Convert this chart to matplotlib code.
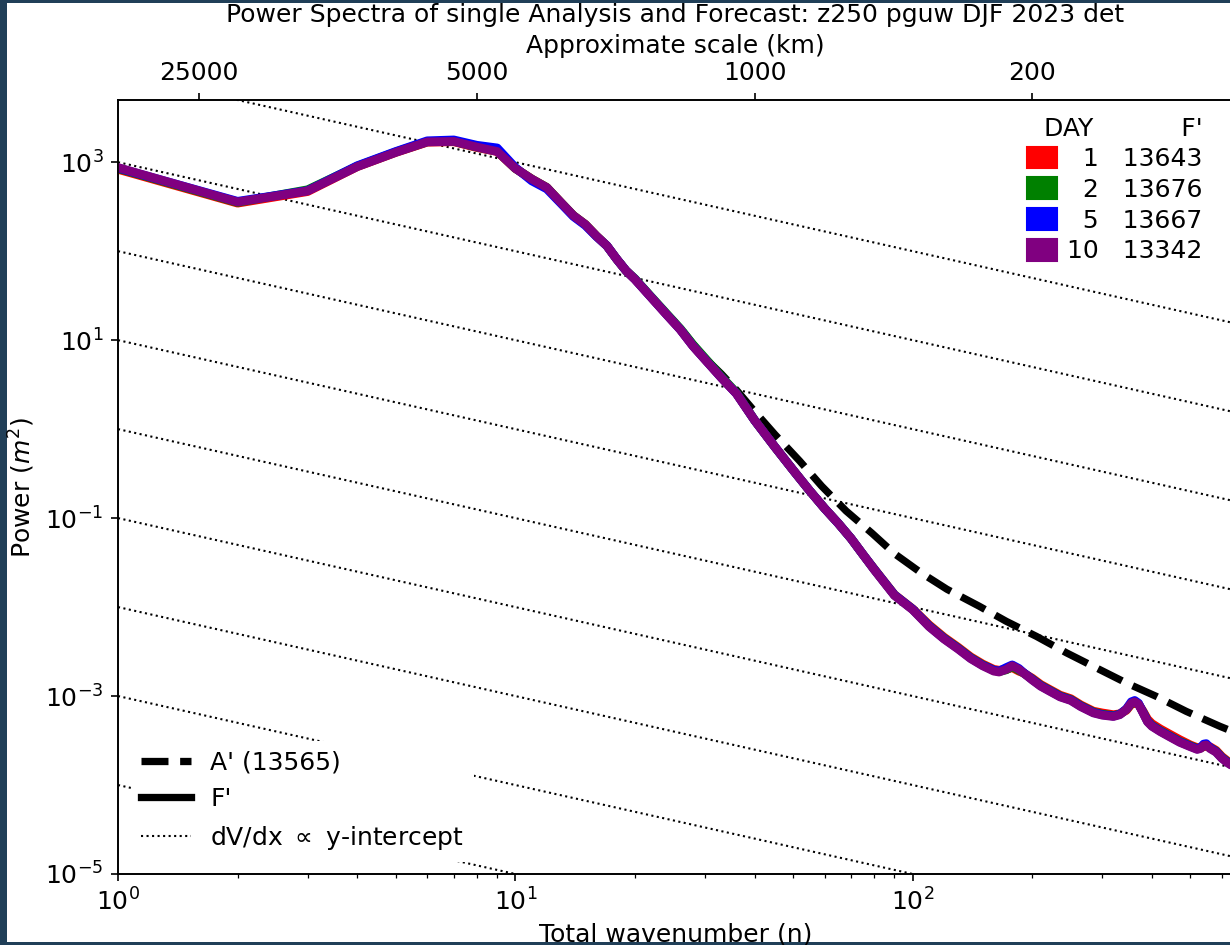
import matplotlib
matplotlib.use('Agg')
import matplotlib.pyplot as plt
from matplotlib.patches import Rectangle, Patch
from matplotlib.lines import Line2D
from matplotlib.ticker import NullLocator, FixedLocator, FixedFormatter
import numpy as np

plt.rcParams['font.family'] = ['DejaVu Sans']
plt.rcParams['font.size'] = 12
plt.rcParams['mathtext.fontset'] = 'dejavusans'

# ---------------- data ----------------
title = "Power Spectra of single Analysis and Forecast: z250 pguw DJF 2023 det"
days = [1, 2, 5, 10]
day_colors = ['red', 'green', 'blue', 'purple']
f_totals = [13643, 13676, 13667, 13342]
a_total = 13565
scale_km = [25000, 5000, 1000, 200]
intercepts = [1e4, 1e3, 1e2, 1e1, 1e0, 1e-1, 1e-2, 1e-3, 1e-4, 1e-5]
y_ticks = [1e3, 1e1, 1e-1, 1e-3, 1e-5]

wn = [1, 2, 3, 4, 5, 6, 7, 8, 9, 10, 11, 12, 13, 14, 15, 16, 17, 18, 19, 20,
      22, 24, 26, 28, 30, 33, 36, 40, 45, 50, 55, 60, 65, 70, 75, 80, 90, 100, 110, 120,
      130, 140, 150, 160, 165, 172, 178, 185, 190, 200, 210, 220, 235, 250, 265, 285, 300, 320, 332, 345,
      355, 362, 370, 380, 390, 400, 420, 440, 470, 500, 520, 530, 540, 548, 560, 580, 600, 620, 640]

# log10 of power (m^2) per forecast day
logp_day1 = [2.92, 2.54, 2.67, 2.95, 3.11, 3.225, 3.23, 3.165, 3.12, 2.93, 2.81, 2.715, 2.55, 2.40, 2.30, 2.17, 2.06, 1.91, 1.78, 1.684,
             1.478, 1.29, 1.12, 0.934, 0.784, 0.578, 0.40, 0.10, -0.20, -0.46, -0.69, -0.89, -1.06, -1.23, -1.41, -1.57, -1.86, -2.02, -2.20, -2.34,
             -2.45, -2.56, -2.64, -2.70, -2.71, -2.70, -2.68, -2.72, -2.74, -2.80, -2.87, -2.92, -2.99, -3.03, -3.10, -3.17, -3.19, -3.21, -3.20, -3.16,
             -3.09, -3.08, -3.09, -3.17, -3.26, -3.31, -3.37, -3.42, -3.49, -3.55, -3.58, -3.58, -3.57, -3.56, -3.57, -3.61, -3.68, -3.73, -3.77]
logp_day2 = [2.93, 2.548, 2.69, 2.955, 3.115, 3.23, 3.235, 3.17, 3.125, 2.93, 2.81, 2.715, 2.55, 2.40, 2.30, 2.17, 2.06, 1.91, 1.78, 1.69,
             1.485, 1.30, 1.13, 0.95, 0.80, 0.59, 0.41, 0.10, -0.20, -0.46, -0.69, -0.89, -1.06, -1.23, -1.41, -1.575, -1.865, -2.025, -2.21, -2.35,
             -2.46, -2.57, -2.65, -2.71, -2.725, -2.705, -2.67, -2.71, -2.74, -2.81, -2.88, -2.93, -3.00, -3.04, -3.11, -3.18, -3.205, -3.22, -3.205, -3.15,
             -3.085, -3.07, -3.09, -3.18, -3.28, -3.33, -3.39, -3.44, -3.51, -3.56, -3.59, -3.585, -3.56, -3.555, -3.58, -3.62, -3.69, -3.74, -3.78]
logp_day5 = [2.935, 2.56, 2.68, 2.96, 3.12, 3.24, 3.25, 3.19, 3.16, 2.94, 2.79, 2.70, 2.54, 2.39, 2.29, 2.165, 2.06, 1.91, 1.78, 1.684,
             1.478, 1.29, 1.12, 0.934, 0.784, 0.578, 0.40, 0.10, -0.20, -0.46, -0.69, -0.89, -1.06, -1.23, -1.41, -1.575, -1.865, -2.025, -2.215, -2.355,
             -2.465, -2.575, -2.655, -2.71, -2.72, -2.68, -2.65, -2.69, -2.735, -2.815, -2.885, -2.935, -3.005, -3.045, -3.115, -3.185, -3.21, -3.225, -3.205, -3.145,
             -3.065, -3.05, -3.08, -3.185, -3.285, -3.335, -3.395, -3.445, -3.515, -3.565, -3.595, -3.58, -3.54, -3.535, -3.58, -3.625, -3.695, -3.745, -3.785]
logp_day10 = [2.94, 2.553, 2.677, 2.95, 3.11, 3.228, 3.233, 3.17, 3.12, 2.93, 2.81, 2.715, 2.55, 2.40, 2.30, 2.17, 2.06, 1.91, 1.78, 1.684,
              1.478, 1.29, 1.12, 0.934, 0.784, 0.578, 0.40, 0.10, -0.20, -0.46, -0.69, -0.89, -1.06, -1.23, -1.41, -1.58, -1.87, -2.03, -2.22, -2.36,
              -2.47, -2.58, -2.66, -2.72, -2.73, -2.70, -2.66, -2.70, -2.74, -2.82, -2.89, -2.94, -3.01, -3.05, -3.12, -3.19, -3.215, -3.23, -3.21, -3.15,
              -3.08, -3.065, -3.09, -3.19, -3.29, -3.34, -3.40, -3.45, -3.52, -3.57, -3.60, -3.59, -3.555, -3.55, -3.59, -3.63, -3.70, -3.75, -3.79]

# analysis spectrum
a_wn = [1, 2, 3, 4, 5, 6, 7, 8, 9, 10, 11, 12, 13, 14, 15, 16, 17, 18, 19, 20,
        22, 24, 26, 28, 30, 33, 36, 40, 45, 52, 59, 68, 79, 90,
        105, 122, 147, 172, 205, 244, 290, 345, 410, 488, 593, 640]
a_logp = [2.94, 2.55, 2.68, 2.95, 3.11, 3.23, 3.235, 3.17, 3.13, 2.93, 2.81, 2.715, 2.55, 2.40, 2.30, 2.17, 2.06, 1.92, 1.79, 1.69,
          1.49, 1.30, 1.14, 0.955, 0.80, 0.62, 0.44, 0.20, -0.06, -0.36, -0.64, -0.92, -1.17, -1.40,
          -1.615, -1.80, -1.99, -2.16, -2.33, -2.515, -2.684, -2.853, -3.003, -3.172, -3.34, -3.40]

day_logp = [logp_day1, logp_day2, logp_day5, logp_day10]

# ---------------- figure ----------------
W, H = 1230, 945
navy = '#203f58'
fig = plt.figure(figsize=(W / 150, H / 150), dpi=150, facecolor=navy)
fig.patches.append(Rectangle((7 / W, 3 / H), (W - 7) / W, (H - 6) / H,
                             transform=fig.transFigure, facecolor='white',
                             edgecolor='none', zorder=-10))

ax = fig.add_axes([118 / W, (H - 874) / H, (1233 - 118) / W, (874 - 100) / H])
ax.set_facecolor('none')
ax.set_xscale('log')
ax.set_yscale('log')
xmin, xmax = 1, 640
ax.set_xlim(xmin, xmax)
ax.set_ylim(1e-5, 5e3)

# reference slope lines
xr = np.array([xmin, xmax], dtype=float)
for c in intercepts:
    ax.plot(xr, c / xr, color='black', ls=':', lw=1.0, zorder=1)

# analysis
ax.plot(a_wn, 10 ** np.array(a_logp), color='black', ls='--', lw=3.5, zorder=2)

# forecasts
for lp, col in zip(day_logp, day_colors):
    ax.plot(wn, 10 ** np.array(lp), color=col, lw=4.2, zorder=3,
            solid_joinstyle='round', solid_capstyle='round')

ax.yaxis.set_major_locator(FixedLocator(y_ticks))
ax.yaxis.set_minor_locator(NullLocator())
ax.set_xlabel('Total wavenumber (n)', labelpad=3)
ax.set_ylabel('Power ($m^2$)')

# top axis: approximate scale
ax2 = ax.twiny()
ax2.set_xscale('log')
ax2.set_xlim(xmin, xmax)
ax2.xaxis.set_major_locator(FixedLocator([40000.0 / k for k in scale_km]))
ax2.xaxis.set_major_formatter(FixedFormatter([str(k) for k in scale_km]))
ax2.xaxis.set_minor_locator(NullLocator())
ax2.set_xlabel('Approximate scale (km)')
ax.set_title(title, fontsize=12)

# legends
h1 = [Line2D([], [], color='black', ls='--', lw=3.5),
      Line2D([], [], color='black', ls='-', lw=3.5),
      Line2D([], [], color='black', ls=':', lw=1.0)]
l1 = [f"A' ({a_total})", "F'", r"dV/dx $\propto$ y-intercept"]
leg1 = ax.legend(h1, l1, loc='lower left', frameon=True, framealpha=1,
                 facecolor='white', edgecolor='none', fancybox=False)
ax.add_artist(leg1)

h2 = [Patch(facecolor=c, edgecolor=c) for c in day_colors]
l2 = ['\u2007' * (2 - len(str(d))) + str(d) + '   ' + str(v) for d, v in zip(days, f_totals)]
leg2 = ax2.legend(h2, l2, title='DAY' + ' ' * 11 + "F'", alignment='right',
                  loc='upper right', bbox_to_anchor=(1225 / W, (H - 94) / H),
                  bbox_transform=fig.transFigure, frameon=False,
                  handlelength=1.2, handleheight=0.96, handletextpad=0.4,
                  labelspacing=0.25, borderpad=0.4)

fig.savefig('out.png', dpi=150, facecolor=navy)
